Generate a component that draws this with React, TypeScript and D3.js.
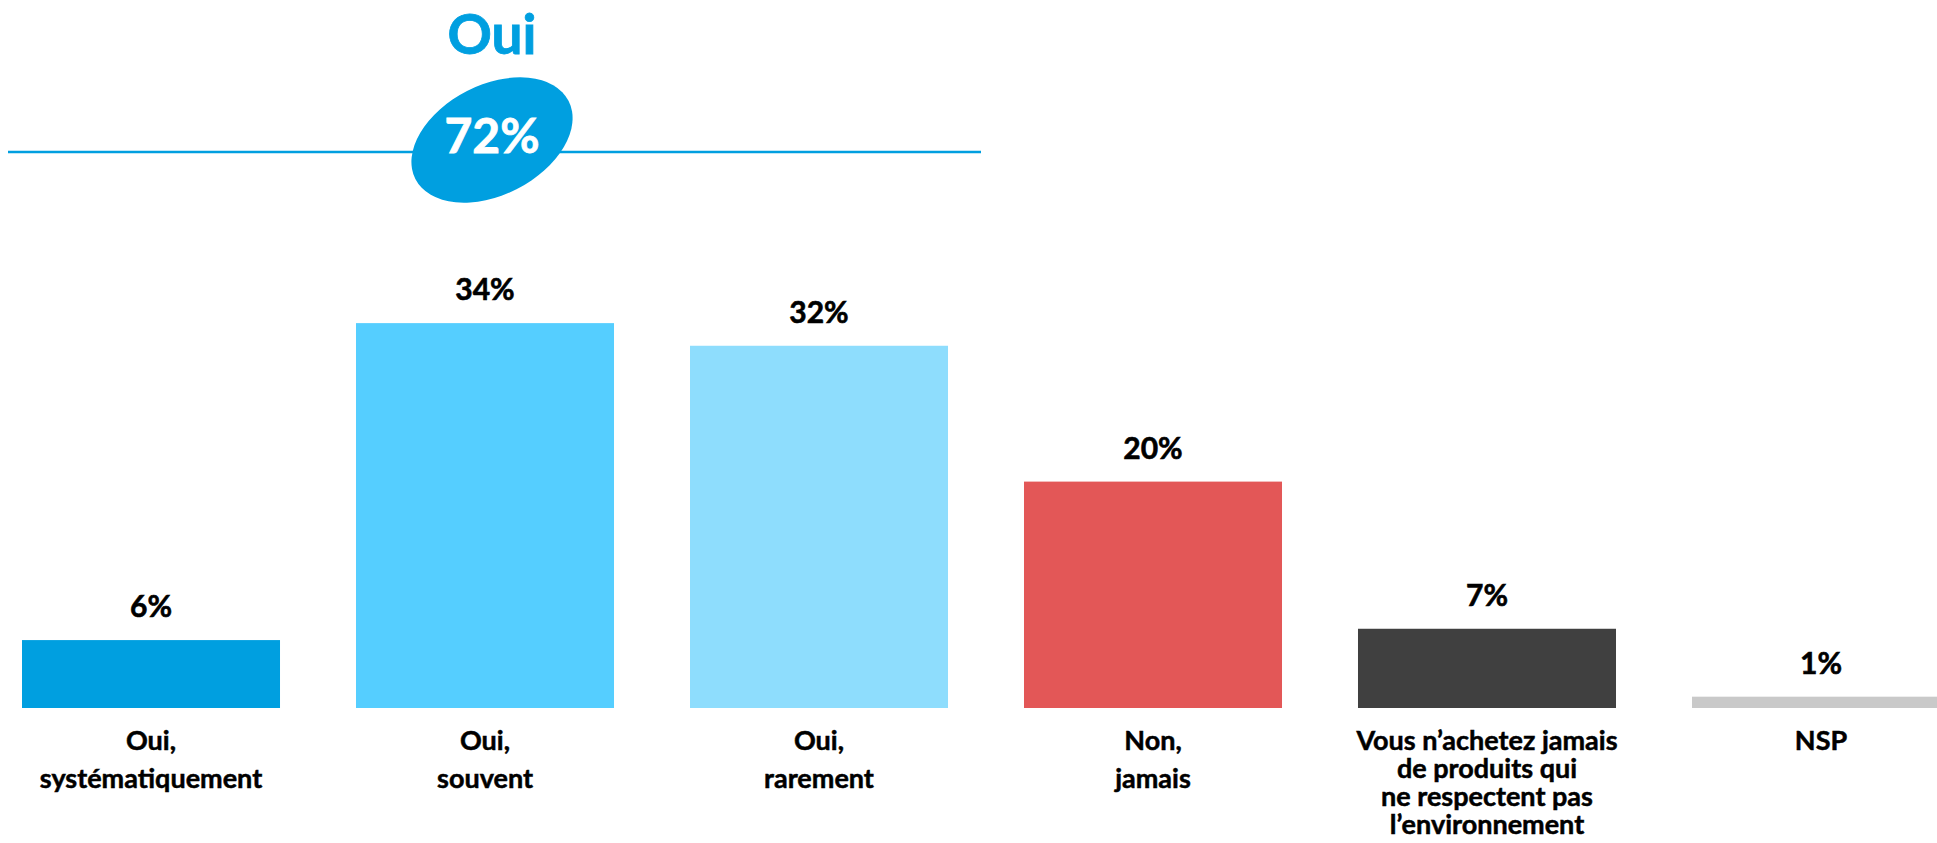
import React, { useEffect, useRef } from "react";
import * as d3 from "d3";

const categories = [
  "Oui, systématiquement",
  "Oui, souvent",
  "Oui, rarement",
  "Non, jamais",
  "Vous n’achetez jamais de produits qui ne respectent pas l’environnement",
  "NSP",
];
const labelLines = [
  ["Oui,", "systématiquement"],
  ["Oui,", "souvent"],
  ["Oui,", "rarement"],
  ["Non,", "jamais"],
  ["Vous n’achetez jamais", "de produits qui", "ne respectent pas", "l’environnement"],
  ["NSP"],
];
const values = [6, 34, 32, 20, 7, 1];
const colors = ["#009FE0", "#55CEFF", "#8EDDFD", "#E35757", "#404040", "#C9C9C9"];
const ouiCount = 3; // the first three answers make up the "Oui" total

const App: React.FC = () => {
  const svgRef = useRef<SVGSVGElement | null>(null);

  useEffect(() => {
    if (!svgRef.current) return;
    const svg = d3.select(svgRef.current);
    svg.selectAll("*").remove();

    const font = "Lato, 'Open Sans', sans-serif";
    const baseY = 708;

    const x = d3
      .scaleBand<string>()
      .domain(categories)
      .range([22, 1950])
      .paddingInner(0.2275)
      .paddingOuter(0);

    const y = d3.scaleLinear().domain([0, 40]).range([baseY, baseY - 40 * 11.32]);

    const data = categories.map((c, i) => ({ c, v: values[i], color: colors[i], lines: labelLines[i] }));

    // bars
    svg
      .selectAll("rect.bar")
      .data(data)
      .enter()
      .append("rect")
      .attr("class", "bar")
      .attr("x", (d) => x(d.c)!)
      .attr("y", (d) => y(d.v))
      .attr("width", x.bandwidth())
      .attr("height", (d) => baseY - y(d.v))
      .attr("fill", (d) => d.color);

    // value labels
    svg
      .selectAll("text.val")
      .data(data)
      .enter()
      .append("text")
      .attr("class", "val")
      .attr("x", (d) => x(d.c)! + x.bandwidth() / 2)
      .attr("y", (d) => y(d.v) - 23)
      .attr("text-anchor", "middle")
      .attr("font-family", font)
      .attr("font-weight", 700)
      .attr("font-size", 30)
      .attr("fill", "#000")
      .attr("stroke", "#000")
      .attr("stroke-width", 0.6)
      .text((d) => `${d.v}%`);

    // category labels
    const lab = svg
      .selectAll("text.cat")
      .data(data)
      .enter()
      .append("text")
      .attr("class", "cat")
      .attr("text-anchor", "middle")
      .attr("font-family", font)
      .attr("font-weight", 700)
      .attr("font-size", 27)
      .attr("fill", "#000")
      .attr("stroke", "#000")
      .attr("stroke-width", 0.5);

    lab.each(function (d) {
      const t = d3.select(this);
      const cx = x(d.c)! + x.bandwidth() / 2;
      const lh = d.lines.length > 2 ? 28 : 38;
      d.lines.forEach((line, k) => {
        t.append("tspan")
          .attr("x", cx)
          .attr("y", 750 + k * lh)
          .text(line);
      });
    });

    // "Oui" total header
    const total = d3.sum(values.slice(0, ouiCount));
    const cx = 492;

    svg
      .append("line")
      .attr("x1", 8)
      .attr("x2", 981)
      .attr("y1", 152)
      .attr("y2", 152)
      .attr("stroke", "#009FE0")
      .attr("stroke-width", 2.5);

    svg
      .append("ellipse")
      .attr("cx", 0)
      .attr("cy", 0)
      .attr("rx", 86)
      .attr("ry", 55)
      .attr("transform", `translate(${cx},140) rotate(-27)`)
      .attr("fill", "#009FE0");

    svg
      .append("text")
      .attr("x", cx)
      .attr("y", 153)
      .attr("text-anchor", "middle")
      .attr("font-family", font)
      .attr("font-weight", 700)
      .attr("font-size", 48)
      .attr("fill", "#fff")
      .attr("stroke", "#fff")
      .attr("stroke-width", 0.8)
      .text(`${total}%`);

    svg
      .append("text")
      .attr("x", cx)
      .attr("y", 54)
      .attr("text-anchor", "middle")
      .attr("font-family", font)
      .attr("font-weight", 700)
      .attr("font-size", 55)
      .attr("fill", "#009FE0")
      .attr("stroke", "#009FE0")
      .attr("stroke-width", 0.8)
      .text("Oui");
  }, []);

  return (
    <svg
      ref={svgRef}
      width={1937}
      height={843}
      style={{ position: "absolute", left: 0, top: 0, background: "#fff" }}
    ></svg>
  );
};

export default App;
